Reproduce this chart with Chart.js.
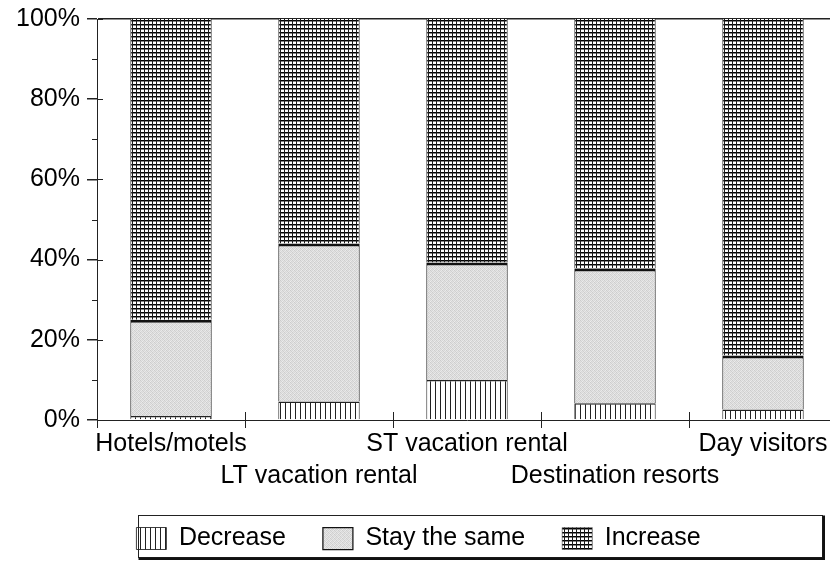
<!DOCTYPE html>
<html>
<head>
<meta charset="utf-8">
<script src="https://cdn.jsdelivr.net/npm/chart.js@4/dist/chart.umd.min.js"></script>
<style>
  html, body { margin: 0; padding: 0; background: #fff; overflow: hidden; }
</style>
</head>
<body>
<canvas id="chart" width="842" height="561"></canvas>
<script>
// categories and series (percent of respondents)
var categories = ['Hotels/motels', 'LT vacation rental', 'ST vacation rental', 'Destination resorts', 'Day visitors'];
var decrease = [1, 4.6, 10, 4.2, 2.6];
var stayTheSame = [24, 39.4, 29.3, 33.6, 13.5];
var increase = [75, 56, 60.7, 62.2, 83.9];
var seriesNames = ['Decrease', 'Stay the same', 'Increase'];

// fill textures like the old print patterns
function makeTile(w, h, paint) {
    var c = document.createElement('canvas');
    c.width = w; c.height = h;
    var g = c.getContext('2d');
    paint(g);
    return document.getElementById('chart').getContext('2d').createPattern(c, 'repeat');
}

var vLines = makeTile(5, 5, function (g) {
    g.fillStyle = '#fff'; g.fillRect(0, 0, 5, 5);
    g.fillStyle = '#222'; g.fillRect(0, 0, 1, 5);
});

var stipple = makeTile(4, 4, function (g) {
    var shades = [[205, 228, 215, 232], [224, 210, 236, 212], [214, 234, 204, 226], [232, 216, 226, 208]];
    for (var r = 0; r < 4; r++) {
        for (var c = 0; c < 4; c++) {
            var s = shades[r][c];
            g.fillStyle = 'rgb(' + s + ',' + s + ',' + s + ')';
            g.fillRect(c, r, 1, 1);
        }
    }
});

var grid = makeTile(4, 4, function (g) {
    g.fillStyle = '#fff'; g.fillRect(0, 0, 4, 4);
    g.fillStyle = '#888'; g.fillRect(0, 1, 4, 1);
    g.fillStyle = '#000'; g.fillRect(0, 0, 4, 1);
    g.fillStyle = '#1a1a1a'; g.fillRect(0, 0, 1, 4);
});

var ink = '#222';
var fontFamily = 'Liberation Sans, Arial, sans-serif';

// extra tick stubs + legend frame
var frame = {
    id: 'frame',
    afterDraw: function (chart) {
        var ctx = chart.ctx, a = chart.chartArea, xs = chart.scales.x, ys = chart.scales.y;
        ctx.save();
        ctx.strokeStyle = ink;
        ctx.lineWidth = 1;
        ctx.beginPath();
        ys.ticks.forEach(function (t) {
            var py = Math.round(ys.getPixelForValue(t.value)) + 0.5;
            if (t.value % 20 === 0) {
                ctx.moveTo(a.left, py); ctx.lineTo(a.left + 6, py);
            } else {
                ctx.moveTo(a.left - 5, py); ctx.lineTo(a.left, py);
            }
        });
        for (var i = 1; i < categories.length; i++) {
            var px = Math.round((xs.getPixelForTick(i - 1) + xs.getPixelForTick(i)) / 2) + 0.5;
            ctx.moveTo(px, a.bottom); ctx.lineTo(px, a.bottom - 8);
        }
        ctx.stroke();

        var hb = chart.legend.legendHitBoxes;
        if (hb && hb.length) {
            var top = Math.round(hb[0].top - 11) + 0.5;
            var bottom = Math.min(Math.round(hb[0].top + hb[0].height + 8), chart.height - 4) + 0.5;
            var left = Math.round(a.left + 41) + 0.5;
            var right = chart.width - 20 + 0.5;
            ctx.strokeRect(left, top, right - left, bottom - top);
            ctx.fillStyle = '#111';
            ctx.fillRect(right, top, 2.5, bottom - top + 2.5);
            ctx.fillRect(left, bottom, right - left + 2.5, 2.5);
        }
        ctx.restore();
    }
};

var ctx = document.getElementById('chart');
var myChart = new Chart(ctx, {
    type: 'bar',
    data: {
        labels: categories,
        datasets: [{
            label: seriesNames[0],
            data: decrease,
            backgroundColor: vLines,
            borderColor: ink,
            borderWidth: { top: 1.5, left: 1, right: 1, bottom: 0 }
        }, {
            label: seriesNames[1],
            data: stayTheSame,
            backgroundColor: stipple,
            borderColor: '#111',
            borderWidth: { top: 3, left: 1, right: 1, bottom: 0 }
        }, {
            label: seriesNames[2],
            data: increase,
            backgroundColor: grid,
            borderColor: ink,
            borderWidth: { top: 0, left: 1, right: 1, bottom: 0 }
        }]
    },
    options: {
        responsive: false,
        animation: false,
        layout: { padding: { top: 19, left: 0, right: 5, bottom: 0 } },
        datasets: {
            bar: { categoryPercentage: 1, barPercentage: 0.55, borderSkipped: 'start' }
        },
        plugins: {
            tooltip: { enabled: false },
            legend: {
                position: 'bottom',
                labels: {
                    color: '#000',
                    font: { family: fontFamily, size: 25 },
                    boxWidth: 30,
                    boxHeight: 22,
                    padding: 37
                }
            }
        },
        scales: {
            x: {
                stacked: true,
                afterFit: function (scale) { scale.height = scale.height - 3; },
                border: { color: ink, width: 1 },
                grid: {
                    offset: true,
                    color: 'transparent',
                    tickColor: ink,
                    tickLength: 8
                },
                ticks: {
                    color: '#000',
                    autoSkip: false,
                    maxRotation: 0,
                    minRotation: 0,
                    padding: 0,
                    font: { family: fontFamily, size: 25, lineHeight: 32 / 25 },
                    callback: function (value, index) {
                        var name = categories[index];
                        return index % 2 ? ['', name] : name;
                    }
                }
            },
            y: {
                stacked: true,
                min: 0,
                max: 100,
                afterFit: function (scale) {
                    scale.width = 97;
                    scale.paddingTop = 0;
                    scale.paddingBottom = 0;
                },
                border: { color: ink, width: 1 },
                grid: {
                    color: function (c) { return c.tick && c.tick.value === 100 ? ink : 'transparent'; },
                    lineWidth: 1.5,
                    tickColor: function (c) { return c.tick && c.tick.value % 20 === 0 ? ink : 'transparent'; },
                    tickLength: 10
                },
                ticks: {
                    stepSize: 10,
                    color: '#000',
                    padding: 7,
                    font: { family: fontFamily, size: 25 },
                    callback: function (value) { return value % 20 === 0 ? value + '%' : ''; }
                }
            }
        }
    },
    plugins: [frame]
});
</script>
</body>
</html>
